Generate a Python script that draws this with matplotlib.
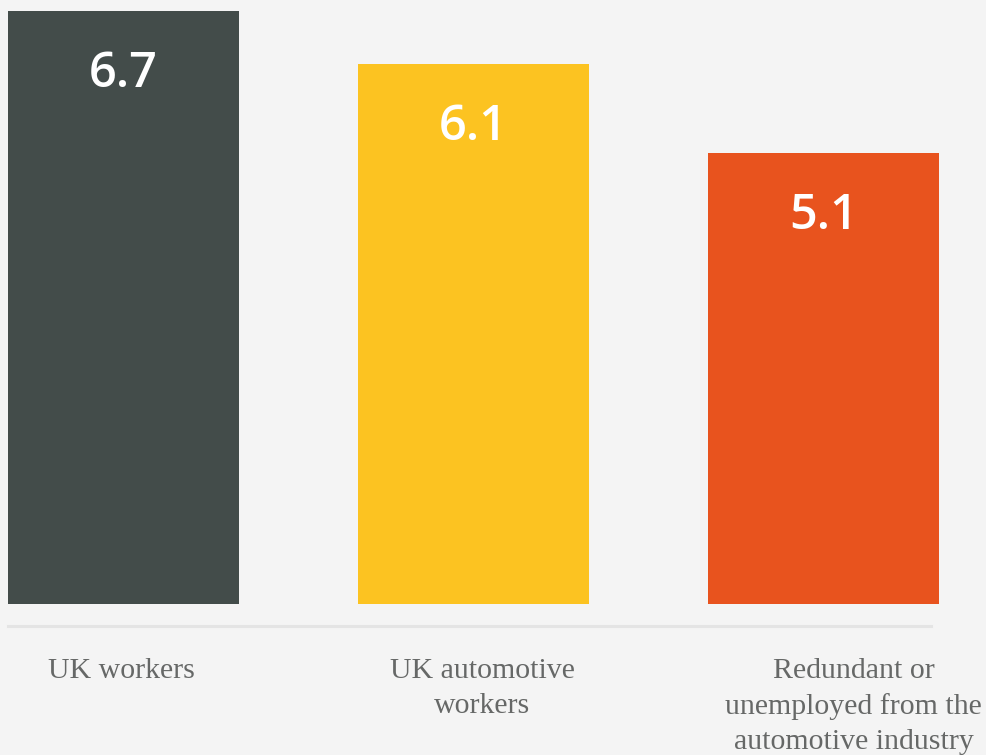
import matplotlib
matplotlib.use("Agg")
import matplotlib.pyplot as plt
from matplotlib.lines import Line2D

# ---- datos ----
categorias = ["UK workers", "UK automotive\nworkers",
              "Redundant or\nunemployed from the\nautomotive industry"]
valores = [6.7, 6.1, 5.1]
etiquetas = ["6.7", "6.1", "5.1"]
colores = ["#434c4a", "#fcc321", "#e8531e"]

fondo = "#f4f4f4"

fig = plt.figure(figsize=(9.87, 7.55), dpi=100)
fig.patch.set_facecolor(fondo)

# ejes colocados en pixeles de la figura
W, H = 987, 755
izq, der, abajo, arriba = 8, 939, 604, 11
ax = fig.add_axes([izq / W, 1 - abajo / H, (der - izq) / W, (abajo - arriba) / H])
ax.set_facecolor(fondo)

pos = list(range(len(valores)))
ax.bar(pos, valores, width=0.66, color=colores)
ax.set_xlim(-0.33, 2.33)
ax.set_ylim(0, max(valores))
ax.axis("off")

# valores dentro de cada barra
for x, v, t in zip(pos, valores, etiquetas):
    ax.annotate(t, (x, v), xytext=(0, -46), textcoords="offset points",
                ha="center", va="center", color="white", fontsize=35,
                fontweight="semibold", family="Open Sans")

# linea base gris claro
fig.add_artist(Line2D([8 / W, 931 / W], [1 - 626 / H] * 2,
                      color="#e4e4e4", lw=2.2))

# nombres de las categorias debajo
desplazamientos = [-2, 9, 30]
for x, c, d in zip(pos, categorias, desplazamientos):
    ax.annotate(c, (x, 0), xytext=(d, -54), textcoords="offset pixels",
                ha="center", va="top", color="#666867", fontsize=21.5,
                family="Liberation Serif", linespacing=1.45,
                annotation_clip=False)

fig.savefig("out.png", dpi=100, facecolor=fondo)
